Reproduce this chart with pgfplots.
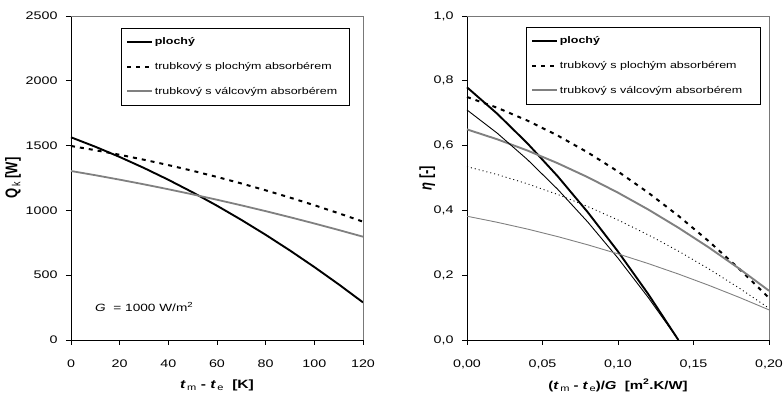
\documentclass[border=0pt]{standalone}
\usepackage{fontspec}
\setmainfont{Liberation Sans}[FakeStretch=1.3]
\newfontfamily\yfont{Liberation Sans}
\usepackage{graphicx}
\usepackage{pgfplots}
\pgfplotsset{compat=1.18}
\definecolor{lgray}{RGB}{128,128,128}
\definecolor{frame}{RGB}{120,120,120}

\pgfplotsset{
  common/.style={
    scale only axis,
    axis x line*=bottom, axis y line*=left,
    axis line style={black, line width=0.9pt},
    tick align=outside, tick style={black, line width=0.8pt},
    major tick length=5pt,
    /pgf/number format/assume math mode=true,
    /pgf/number format/1000 sep={},
    tick label style={font=\fontsize{11}{13}\selectfont},
    legend cell align=left,
    legend image code/.code={\draw[##1] (0pt,0pt) -- (25pt,0pt);},
    legend style={draw=black, line width=0.8pt, fill=white,
      font=\fontsize{9.6}{11}\selectfont, row sep=13pt,
      inner xsep=5pt, inner ysep=8pt,
      nodes={inner sep=1.5pt}},
    after end axis/.code={\draw[frame, line width=0.8pt] (rel axis cs:0,1) -- (rel axis cs:1,1) -- (rel axis cs:1,0);},
    clip=false,
  },
}

\begin{document}
\begin{tikzpicture}
\useasboundingbox (0,0) rectangle (784pt,403pt);

% ---------- left axis ----------
\begin{axis}[common,
  at={(71pt,63pt)}, anchor=south west,
  width=292pt, height=324pt,
  xmin=0, xmax=120, ymin=0, ymax=2500,
  xtick={0,20,...,120}, ytick={0,500,...,2500},
  xticklabel style={yshift=-11pt},
  yticklabel style={xshift=-5pt},
  xlabel={\fontsize{12}{14}\selectfont\textbf{\textit{t}}\raisebox{-0.35ex}{\fontsize{8.5}{9}\selectfont\,m}\textbf{\ - \textit{t}}\raisebox{-0.35ex}{\fontsize{8.5}{9}\selectfont\,e}\textbf{\ \ [K]}},
  xlabel style={at={(axis description cs:0.5,-0.14)}, anchor=center},
  ylabel={\scalebox{1}[1.3]{\yfont\fontsize{13}{14}\selectfont\textbf{Q}\raisebox{-0.35ex}{\fontsize{9}{9}\selectfont\,k}\textbf{\ [W]}}},
  ylabel style={at={(axis description cs:-0.199,0.5)}, anchor=center},
  legend style={at={(axis description cs:0.171,0.963)}, anchor=north west},
]
\addplot[black, line width=1.9pt] coordinates {
 (0,1564) (10,1491.2) (20,1412.3) (30,1327.3) (40,1236.3) (50,1139.3) (60,1036.1)
 (70,926.9) (80,811.7) (90,690.4) (100,563) (110,429.6) (120,290.1)};
\addlegendentry{\textbf{plochý}}
\addplot[black, line width=2pt, dash pattern=on 4pt off 5pt] coordinates {
 (0,1497) (10,1464.6) (20,1429.2) (30,1390.9) (40,1349.6) (50,1305.4) (60,1258.2)
 (70,1208.0) (80,1154.9) (90,1098.9) (100,1039.9) (110,978.0) (120,913.1)};
\addlegendentry{trubkový s plochým absorbérem\hspace*{8pt}}
\addplot[lgray, line width=1.8pt] coordinates {
 (0,1304) (10,1271.5) (20,1237.1) (30,1201.1) (40,1163.2) (50,1123.6) (60,1082.2)
 (70,1039.1) (80,994.2) (90,947.5) (100,899.1) (110,848.9) (120,797.0)};
\addlegendentry{trubkový s válcovým absorbérem\hspace*{6pt}}
\node[anchor=base west, font=\fontsize{10.5}{12}\selectfont] at (axis cs:8.5,218) {\textit{G}\ \ = 1000 W/m\textsuperscript{2}};
\end{axis}

% ---------- right axis ----------
\begin{axis}[common,
  at={(467pt,63pt)}, anchor=south west,
  width=302pt, height=324pt,
  xmin=0, xmax=0.2, ymin=0, ymax=1,
  xtick={0,0.05,0.1,0.15,0.2}, xticklabels={{0,00},{0,05},{0,10},{0,15},{0,20}},
  ytick={0,0.2,0.4,0.6,0.8,1}, yticklabels={{0,0},{0,2},{0,4},{0,6},{0,8},{1,0}},
  xticklabel style={yshift=-11pt},
  yticklabel style={xshift=-5pt},
  xlabel={\fontsize{11.5}{14}\selectfont\textbf{(\textit{t}}\raisebox{-0.35ex}{\fontsize{8.5}{9}\selectfont\,m}\textbf{\ - \textit{t}}\raisebox{-0.35ex}{\fontsize{8.5}{9}\selectfont\,e}\textbf{)/\textit{G}\ \ [m\textsuperscript{2}.K/W]}},
  xlabel style={at={(axis description cs:0.5,-0.14)}, anchor=center},
  ylabel={\scalebox{1}[1.3]{\yfont\fontsize{13}{14}\selectfont\textbf{\textit{η}\ [-]}}},
  ylabel style={at={(axis description cs:-0.132,0.5)}, anchor=center},
  legend style={at={(axis description cs:0.195,0.966)}, anchor=north west},
]
\addplot[black, line width=1.9pt] coordinates {
 (0,0.78) (0.02,0.6984) (0.04,0.6070) (0.06,0.5056) (0.08,0.3942) (0.10,0.273) (0.12,0.1418) (0.14,0.0)};
\addlegendentry{\textbf{plochý}}
\addplot[black, line width=2pt, dash pattern=on 4pt off 5pt] coordinates {
 (0,0.75) (0.02,0.7168) (0.04,0.6772) (0.06,0.6312) (0.08,0.5788) (0.10,0.52) (0.12,0.4548)
 (0.14,0.3832) (0.16,0.3052) (0.18,0.2208) (0.20,0.13)};
\addlegendentry{trubkový s plochým absorbérem\hspace*{14pt}}
\addplot[lgray, line width=1.9pt] coordinates {
 (0,0.65) (0.02,0.6195) (0.04,0.5848) (0.06,0.5457) (0.08,0.5024) (0.10,0.4547) (0.12,0.4028)
 (0.14,0.3465) (0.16,0.2860) (0.18,0.2211) (0.20,0.1520)};
\addlegendentry{trubkový s válcovým absorbérem\hspace*{12pt}}
\addplot[black, line width=0.9pt, forget plot] coordinates {
 (0,0.71) (0.02,0.6384) (0.04,0.5569) (0.06,0.4654) (0.08,0.3640) (0.10,0.2526) (0.12,0.1313) (0.14,0.0)};
\addplot[black, line width=0.9pt, dash pattern=on 1pt off 3pt, forget plot] coordinates {
 (0,0.535) (0.02,0.5107) (0.04,0.4821) (0.06,0.4492) (0.08,0.4119) (0.10,0.3704) (0.12,0.3245)
 (0.14,0.2744) (0.16,0.2199) (0.18,0.1611) (0.20,0.0980)};
\addplot[lgray, line width=0.9pt, forget plot] coordinates {
 (0,0.382) (0.02,0.3633) (0.04,0.3424) (0.06,0.3192) (0.08,0.2937) (0.10,0.2659) (0.12,0.2359)
 (0.14,0.2036) (0.16,0.1690) (0.18,0.1321) (0.20,0.0930)};
\end{axis}
\end{tikzpicture}
\end{document}
